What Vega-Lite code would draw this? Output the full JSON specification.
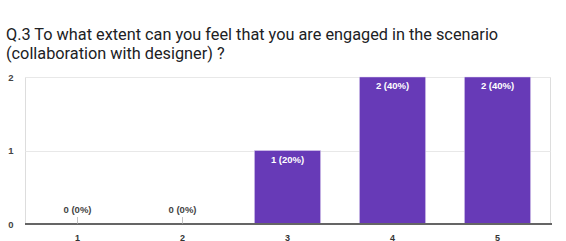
{
  "$schema": "https://vega.github.io/schema/vega-lite/v6.json",
  "autosize": "none",
  "width": 525,
  "height": 147,
  "padding": {"left": 25, "top": 77, "right": 16, "bottom": 17},
  "background": "white",
  "title": {
    "text": ["Q.3 To what extent can you feel that you are engaged in the scenario", "(collaboration with designer) ?"],
    "anchor": "start",
    "frame": "group",
    "dx": -19,
    "offset": 10,
    "font": "Roboto",
    "fontSize": 16.3,
    "fontWeight": "normal",
    "lineHeight": 18.5,
    "color": "#202124"
  },
  "data": {
    "values": [
      {"option": "1", "count": 0, "label": "0 (0%)"},
      {"option": "2", "count": 0, "label": "0 (0%)"},
      {"option": "3", "count": 1, "label": "1 (20%)"},
      {"option": "4", "count": 2, "label": "2 (40%)"},
      {"option": "5", "count": 2, "label": "2 (40%)"}
    ]
  },
  "encoding": {
    "x": {
      "field": "option",
      "type": "nominal",
      "sort": null,
      "scale": {"paddingInner": 0.37, "paddingOuter": 0.185},
      "axis": {
        "title": null,
        "labelAngle": 0,
        "ticks": false,
        "domain": false,
        "labelPadding": 9,
        "labelFont": "Liberation Sans",
        "labelFontSize": 9,
        "labelFontWeight": "bold",
        "labelColor": "#333"
      }
    }
  },
  "layer": [
    {
      "mark": {"type": "bar", "color": "#673ab7", "stroke": "#e0d7f0", "strokeWidth": 0.5},
      "encoding": {
        "y": {
          "field": "count",
          "type": "quantitative",
          "scale": {"domain": [0, 2], "nice": false},
          "axis": {
            "title": null,
            "values": [0, 1, 2],
            "format": ".0f",
            "labelOverlap": false,
            "ticks": false,
            "domain": false,
            "labelPadding": 12,
            "gridColor": "#e8e8e8",
            "labelFont": "Liberation Sans",
            "labelFontSize": 9.5,
            "labelFontWeight": "bold",
            "labelColor": "#444"
          }
        }
      }
    },
    {
      "mark": {"type": "rule", "color": "#666", "strokeWidth": 1.5},
      "encoding": {"y": {"datum": 0}, "x": {"value": 0}, "x2": {"value": 527}}
    },
    {
      "transform": [{"filter": "datum.count == 0"}],
      "mark": {"type": "tick", "orient": "vertical", "size": 7, "thickness": 1, "color": "#aaa", "yOffset": -3.5},
      "encoding": {"y": {"field": "count", "type": "quantitative"}}
    },
    {
      "transform": [{"filter": "datum.count > 0"}],
      "mark": {"type": "text", "baseline": "top", "dy": 4, "color": "white", "font": "Liberation Sans", "fontSize": 9.5, "fontWeight": "bold"},
      "encoding": {"y": {"field": "count", "type": "quantitative"}, "text": {"field": "label"}}
    },
    {
      "transform": [{"filter": "datum.count == 0"}],
      "mark": {"type": "text", "baseline": "bottom", "dy": -9, "color": "#444", "font": "Liberation Sans", "fontSize": 9.5, "fontWeight": "bold"},
      "encoding": {"y": {"field": "count", "type": "quantitative"}, "text": {"field": "label"}}
    }
  ]
}
